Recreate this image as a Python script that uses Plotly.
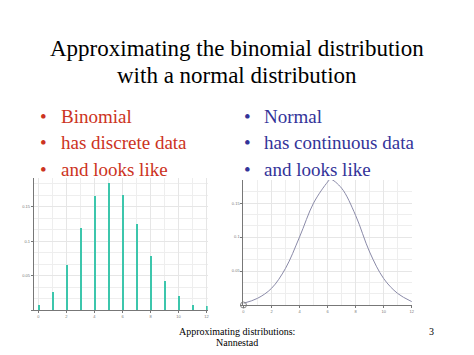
import plotly.graph_objects as go

# ---- data ----
binom_x = [0, 1, 2, 3, 4, 5, 6, 7, 8, 9, 10, 11, 12]
binom_p = [0.0073, 0.026, 0.066, 0.119, 0.166, 0.185, 0.168, 0.125, 0.079, 0.042, 0.020, 0.008, 0.006]

normal_x = [0, 1, 2, 3, 4, 5, 6, 6.2, 7, 8, 9, 10, 11, 12]
normal_y = [0.0025, 0.0098, 0.0245, 0.054, 0.100, 0.150, 0.181, 0.185, 0.172, 0.132, 0.078, 0.039, 0.017, 0.005]

origin_x = [0]
origin_y = [0]

title_lines = ["Approximating the binomial distribution", "with a normal distribution"]
left_bullets = ["Binomial", "has discrete data", "and looks like"]
right_bullets = ["Normal", "has continuous data", "and looks like"]
footer_lines = ["Approximating distributions:", "Nannestad"]
page_number = "3"

x_ticks = [0, 2, 4, 6, 8, 10, 12]
y_ticks = [0, 0.05, 0.1, 0.15]

W, H = 474, 355
SERIF = "Liberation Serif, Times New Roman, serif"
RED = "#cc3322"
BLUE = "#333399"

fig = go.Figure()

# binomial spikes
fig.add_trace(go.Bar(x=binom_x, y=binom_p, width=0.08, marker=dict(color="#3cc6ac", line=dict(width=0)),
                     xaxis="x", yaxis="y", showlegend=False, hoverinfo="skip"))

# normal curve
fig.add_trace(go.Scatter(x=normal_x, y=normal_y, mode="lines", line=dict(color="#8a8aa8", width=1, shape="spline", smoothing=1.0),
                         xaxis="x2", yaxis="y2", showlegend=False, hoverinfo="skip"))
fig.add_trace(go.Scatter(x=origin_x, y=origin_y, mode="markers",
                         marker=dict(symbol="circle-open", size=6, color="#888888", line=dict(width=1)),
                         xaxis="x2", yaxis="y2", showlegend=False, hoverinfo="skip", cliponaxis=False))

def px_x(p):
    return p / W

def px_y(p):
    return 1 - p / H

axis_common = dict(showline=True, linecolor="#777777", linewidth=1, ticks="outside", ticklen=2,
                   tickcolor="#777777", tickfont=dict(size=4, color="#777777", family="Arial"),
                   showgrid=True, gridcolor="#e6e6e6", gridwidth=1, zeroline=False)

fig.update_layout(
    width=W, height=H, margin=dict(l=0, r=0, t=0, b=0),
    paper_bgcolor="white", plot_bgcolor="white", bargap=0,
    xaxis=dict(domain=[px_x(33), px_x(208)], range=[-0.33, 12.08], anchor="y",
               tickvals=x_ticks, **axis_common,
               minor=dict(dtick=1, tick0=0, showgrid=True, gridcolor="#eeeeee")),
    yaxis=dict(domain=[px_y(310), px_y(178)], range=[0, 0.192], anchor="x",
               tickvals=y_ticks, ticktext=["", "0.05", "0.1", "0.15"], **axis_common,
               minor=dict(dtick=0.05 / 3, tick0=0, showgrid=True, gridcolor="#eeeeee")),
    xaxis2=dict(domain=[px_x(244), px_x(414)], range=[0, 12.05], anchor="y2",
                tickvals=x_ticks, **axis_common,
                minor=dict(dtick=1, tick0=0, showgrid=True, gridcolor="#eeeeee")),
    yaxis2=dict(domain=[px_y(305), px_y(180)], range=[0, 0.184], anchor="x2",
                tickvals=y_ticks, ticktext=["", "0.05", "0.1", "0.15"], **axis_common,
                minor=dict(dtick=0.05 / 3, tick0=0, showgrid=True, gridcolor="#eeeeee")),
)

ann = []
# title
for i, line in enumerate(title_lines):
    ann.append(dict(text=line, x=px_x(237), y=px_y(48 + 28 * i), xref="paper", yref="paper",
                    xanchor="center", yanchor="middle", showarrow=False,
                    font=dict(family=SERIF, size=23, color="black")))
# bullets
for i, (lt, rt) in enumerate(zip(left_bullets, right_bullets)):
    yy = px_y(116 + 26.7 * i)
    ann.append(dict(text="•", x=px_x(43), y=yy, xref="paper", yref="paper", xanchor="center", yanchor="middle",
                    showarrow=False, font=dict(family=SERIF, size=19, color=RED)))
    ann.append(dict(text=lt, x=px_x(58), y=yy, xref="paper", yref="paper", xanchor="left", yanchor="middle",
                    showarrow=False, font=dict(family=SERIF, size=19, color=RED)))
    ann.append(dict(text="•", x=px_x(248), y=yy, xref="paper", yref="paper", xanchor="center", yanchor="middle",
                    showarrow=False, font=dict(family=SERIF, size=19, color=BLUE)))
    ann.append(dict(text=rt, x=px_x(263), y=yy, xref="paper", yref="paper", xanchor="left", yanchor="middle",
                    showarrow=False, font=dict(family=SERIF, size=19, color=BLUE)))
# footer
for i, line in enumerate(footer_lines):
    ann.append(dict(text=line, x=px_x(237), y=px_y(331.5 + 11 * i), xref="paper", yref="paper",
                    xanchor="center", yanchor="middle", showarrow=False,
                    font=dict(family=SERIF, size=10, color="black")))
ann.append(dict(text=page_number, x=px_x(433), y=px_y(331.5), xref="paper", yref="paper",
                xanchor="center", yanchor="middle", showarrow=False,
                font=dict(family=SERIF, size=10, color="black")))

fig.update_layout(annotations=ann)
fig.write_html("out.html")
